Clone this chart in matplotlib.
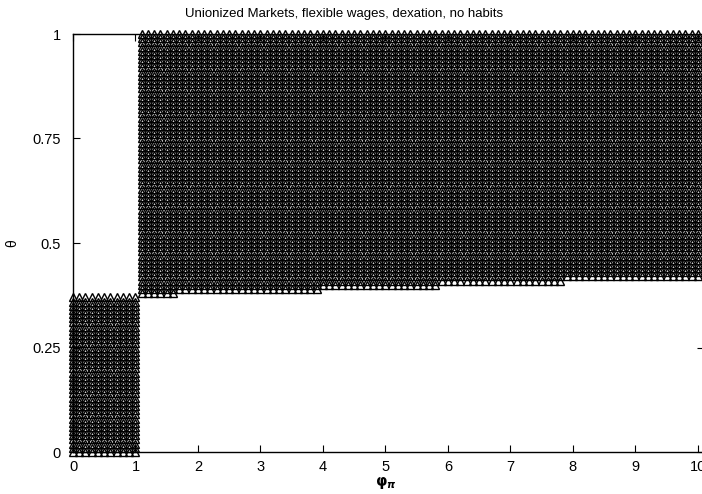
import numpy as np
import matplotlib
matplotlib.use("Agg")
import matplotlib.pyplot as plt

plt.rcParams['font.family'] = ['Liberation Sans', 'DejaVu Sans']
plt.rcParams['mathtext.fontset'] = 'dejavusans'

# Determinate region on a (phi_pi, theta) grid
phi_step = 0.1
theta_step = 0.01

# lower-left block: phi_pi in [0, 1], theta from 0 up to its ceiling
low_phi = (0.0, 1.0)
low_theta_top = 0.37

# upper block: phi_pi segments and the theta floor of each segment
seg_phi_start = [1.1, 1.7, 4.0, 5.9, 7.9]
seg_phi_end = [1.6, 3.9, 5.8, 7.8, 10.0]
seg_theta_floor = [0.38, 0.39, 0.40, 0.41, 0.42]
theta_max = 1.0

xticks = [0, 1, 2, 3, 4, 5, 6, 7, 8, 9, 10]
yticks = [0, 0.25, 0.5, 0.75, 1]
ytick_labels = ["0", "0.25", "0.5", "0.75", "1"]

title = "Unionized Markets, flexible wages, dexation, no habits"

xs, ys = [], []
phis = np.round(np.arange(low_phi[0], low_phi[1] + 1e-9, phi_step), 3)
thetas = np.round(np.arange(0.0, low_theta_top + 1e-9, theta_step), 3)
for p in phis:
    for t in thetas:
        xs.append(p)
        ys.append(t)
for a, b, f in zip(seg_phi_start, seg_phi_end, seg_theta_floor):
    phis = np.round(np.arange(a, b + 1e-9, phi_step), 3)
    thetas = np.round(np.arange(f, theta_max + 1e-9, theta_step), 3)
    for p in phis:
        for t in thetas:
            xs.append(p)
            ys.append(t)

W, H = 702, 494
fig = plt.figure(figsize=(W / 100, H / 100), dpi=100)
left_px, right_px, top_px, bot_px = 73, 704, 34, 452
ax = fig.add_axes([left_px / W, (H - bot_px) / H,
                   (right_px - left_px) / W, (bot_px - top_px) / H])

ax.plot(xs, ys, linestyle='none', marker='^', markersize=5.6,
        markerfacecolor='none', markeredgecolor='black',
        markeredgewidth=1.0, clip_on=False, zorder=3)

ax.set_xlim(0, 10.1)
ax.set_ylim(0, 1)
ax.set_xticks(xticks)
ax.set_xticklabels([str(v) for v in xticks])
ax.set_yticks(yticks)
ax.set_yticklabels(ytick_labels)
ax.tick_params(direction='in', length=5, width=0.8, top=True, right=True,
               labelsize=10.5, colors='black')
ax.tick_params(axis='y', pad=9)
ax.tick_params(axis='x', pad=6)
for s in ax.spines.values():
    s.set_linewidth(1.0)
    s.set_color('black')

fig.text(344 / W, 1 - 14 / H, title, ha='center', va='center',
         fontsize=9.5)
fig.text(12 / W, 1 - 243 / H, 'θ', rotation=90, ha='center',
         va='center', fontsize=10)
fig.text(386 / W, 1 - 483 / H, r'$\boldsymbol{\varphi}_{\boldsymbol{\pi}}$',
         ha='center', va='center', fontsize=10.5)

fig.savefig('out.png', dpi=100)
